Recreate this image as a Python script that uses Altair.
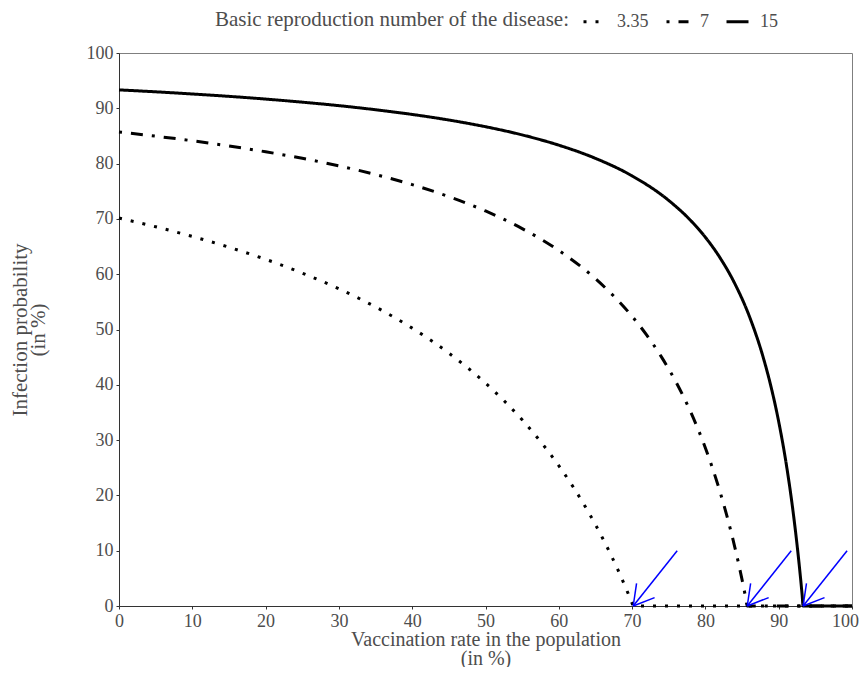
import altair as alt
import pandas as pd

# ---- data ----
r0_labels = ["3.35", "7", "15"]

vacc_335 = [0, 5, 10, 15, 20, 25, 30, 35, 40, 45, 50, 55, 60, 62, 64, 66, 68, 69, 69.5, 70, 70.15, 100]
prob_335 = [70.15, 68.58, 66.83, 64.88, 62.69, 60.20, 57.36, 54.08, 50.25, 45.73, 40.30, 33.66,
            25.37, 21.45, 17.08, 12.20, 6.72, 3.71, 2.13, 0.50, 0, 0]

vacc_7 = [0, 5, 10, 15, 20, 25, 30, 35, 40, 45, 50, 55, 60, 65, 70, 72, 74, 76, 78, 80, 82, 83, 84,
          84.5, 85, 85.5, 85.71, 100]
prob_7 = [85.71, 84.96, 84.13, 83.19, 82.14, 80.95, 79.59, 78.02, 76.19, 74.03, 71.43, 68.25, 64.29,
          59.18, 52.38, 48.98, 45.05, 40.48, 35.06, 28.57, 20.63, 15.97, 10.71, 7.83, 4.76, 1.48, 0, 0]

vacc_15 = [0, 5, 10, 15, 20, 25, 30, 35, 40, 45, 50, 55, 60, 65, 70, 75, 78, 80, 82, 84, 86, 88, 89,
           90, 91, 92, 92.5, 92.75, 93, 93.2, 93.33, 100]
prob_15 = [93.33, 92.98, 92.59, 92.16, 91.67, 91.11, 90.48, 89.74, 88.89, 87.88, 86.67, 85.19, 83.33,
           80.95, 77.78, 73.33, 69.70, 66.67, 62.96, 58.33, 52.38, 44.44, 39.39, 33.33, 25.93, 16.67,
           11.11, 8.05, 4.76, 1.96, 0, 0]

# arrows pointing at the herd-immunity thresholds
arrow_tip_x = [70.15, 85.71, 93.33]
arrow_tip_y = [0, 0, 0]
arrow_tail_dx = 6
arrow_tail_dy = 10
head_dx = [0.46, 2.92]
head_dy = [4.11, 1.52]

x_ticks = [0, 10, 20, 30, 40, 50, 60, 70, 80, 90, 100]
y_ticks = [0, 10, 20, 30, 40, 50, 60, 70, 80, 90, 100]

# ---- tables ----
rows = []
for lab, xs, ys in zip(r0_labels, [vacc_335, vacc_7, vacc_15], [prob_335, prob_7, prob_15]):
    for i, (x, y) in enumerate(zip(xs, ys)):
        rows.append({"vacc": x, "prob": y, "R0": lab, "order": i})
df = pd.DataFrame(rows)

segs = []
for tx, ty in zip(arrow_tip_x, arrow_tip_y):
    segs.append({"x": tx + arrow_tail_dx, "y": ty + arrow_tail_dy, "x2": tx, "y2": ty})
    for hx, hy in zip(head_dx, head_dy):
        segs.append({"x": tx, "y": ty, "x2": tx + hx, "y2": ty + hy})
arrows = pd.DataFrame(segs)

FONT = "Liberation Serif"
GREY = "#4d4d4d"

xscale = alt.Scale(domain=[0, 100], nice=False, zero=False)
yscale = alt.Scale(domain=[0, 100], nice=False, zero=False)

lines = alt.Chart(df).mark_line(strokeWidth=3, color="black", strokeCap="butt",
                                interpolate="monotone").encode(
    x=alt.X("vacc:Q", scale=xscale,
            axis=alt.Axis(title=["Vaccination rate in the population", "(in %)"], values=x_ticks,
                          labelOffset=alt.ExprRef("datum.value == 100 ? -7 : 0"),
                          titleFontSize=20, titleLineHeight=19, titlePadding=-1)),
    y=alt.Y("prob:Q", scale=yscale,
            axis=alt.Axis(title=["Infection probability", "(in %)"], values=y_ticks,
                          titleLineHeight=18, titlePadding=38)),
    strokeDash=alt.StrokeDash(
        "R0:N",
        scale=alt.Scale(domain=r0_labels, range=[[3, 9], [3, 9, 12, 9], [1, 0]]),
        sort=r0_labels,
        legend=alt.Legend(
            title="Basic reproduction number of the disease:",
            orient="none", legendX=96, legendY=-44,
            direction="horizontal", titleOrient="left",
            symbolType="stroke", symbolSize=484, symbolStrokeWidth=3,
            symbolStrokeColor="black",
            labelFont=FONT, labelFontSize=18, labelColor=GREY, labelOffset=10,
            titleFont=FONT, titleFontSize=21, titleColor=GREY, titleFontWeight="normal",
            titlePadding=13, titleLimit=600, columnPadding=11, padding=0,
        ),
    ),
    order="order:Q",
)

arrow_layer = alt.Chart(arrows).mark_rule(color="blue", strokeWidth=1.5).encode(
    x="x:Q", y="y:Q", x2="x2:Q", y2="y2:Q"
)

chart = alt.layer(lines, arrow_layer).properties(
    width=733, height=553,
    autosize=alt.AutoSizeParams(type="none"),
    padding={"left": 111, "top": 45, "right": 7, "bottom": 61},
).configure_view(
    stroke="#7f7f7f", strokeWidth=1
).configure_axis(
    grid=False,
    domainColor="#333333", domainWidth=1,
    tickColor="#333333", tickSize=3, tickWidth=1,
    labelFont=FONT, labelFontSize=18, labelColor=GREY, labelPadding=3,
    titleFont=FONT, titleFontSize=21, titleColor=GREY, titleFontWeight="normal",
).configure_axisX(
    labelFlush=False,
)

chart.save("out.html", embed_options={"renderer": "svg", "actions": False})
